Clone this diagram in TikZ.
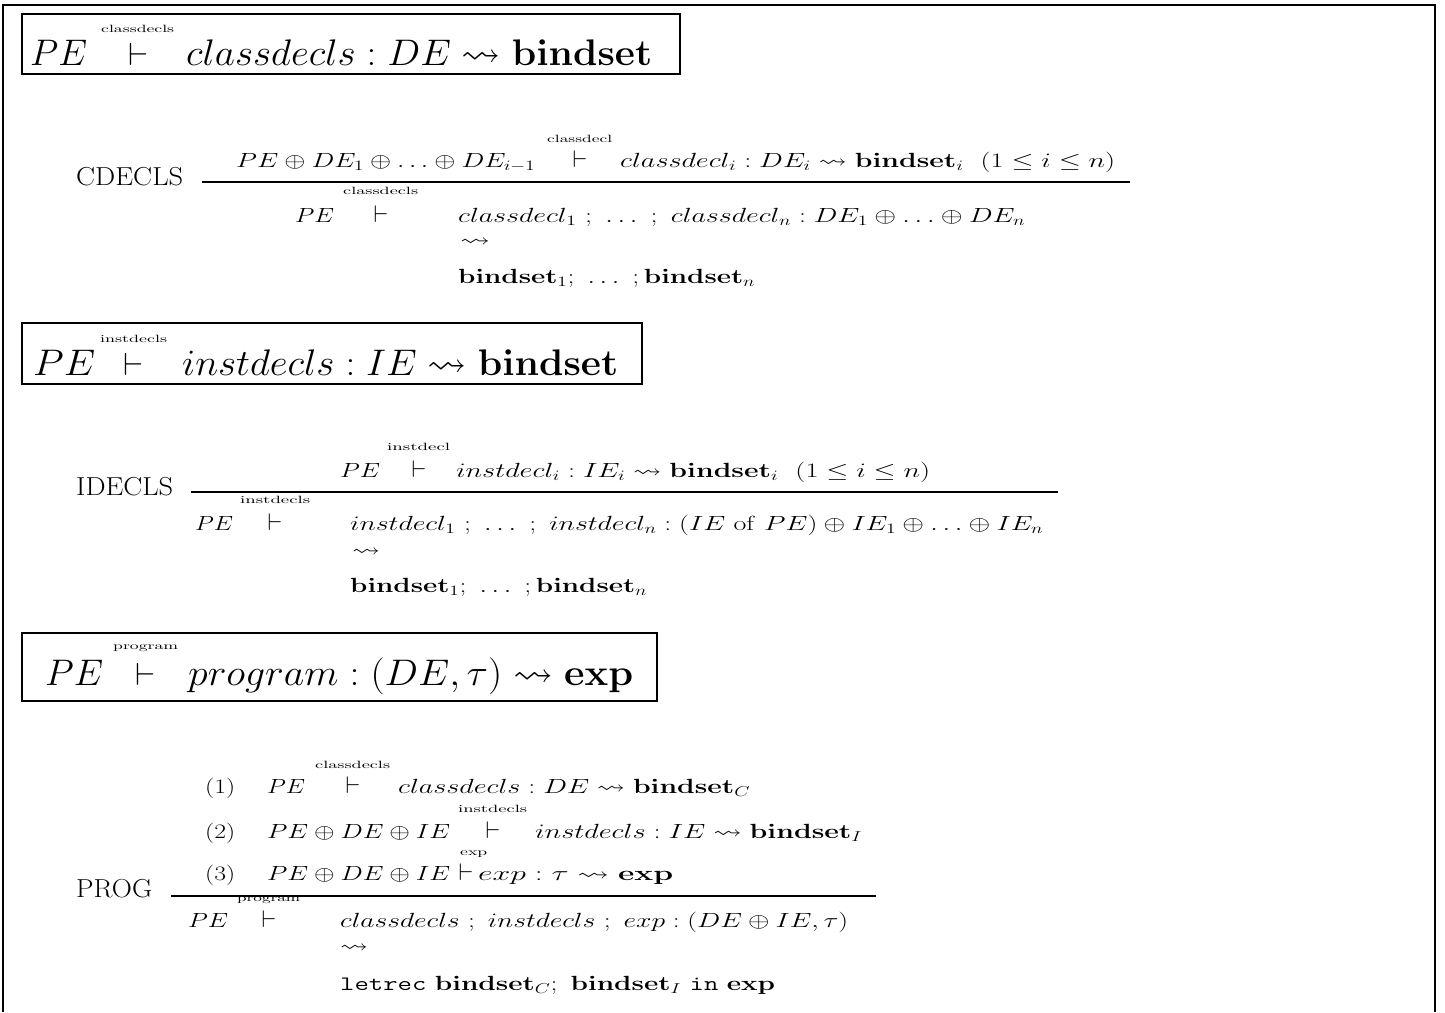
\RequirePackage{fix-cm}
\documentclass[tikz,border=0pt]{standalone}
\usepackage{amssymb}
\usepackage{graphicx}
\newcommand\fw[2]{\resizebox{#1}{\height}{#2}}
\newcommand\Hf{\fontsize{37}{44}\selectfont}
\newcommand\Rf{\fontsize{20.5}{24}\selectfont}
\newcommand\Lf{\fontsize{26}{30}\selectfont}
\newcommand\Sf{\fontsize{10.5}{12}\selectfont}
\newcommand\tsH{\scalebox{3.3}[3.2]{$\vdash$}}
\newcommand\tsR{\scalebox{2.4}[2.4]{$\vdash$}}
\newcommand\sq[1]{\resizebox{#1}{\height}{\Rf$\leadsto$}}
\begin{document}
\begin{tikzpicture}[x=1pt,y=-1pt,
  tx/.style={inner sep=0pt,anchor=base west},
  ts/.style={inner sep=0pt,anchor=base},
  frame/.style={line width=2pt},
  hbox/.style={line width=2pt},
  rule/.style={line width=2.5pt}]
\useasboundingbox (0,0) rectangle (1445,1012);
\draw[frame] (3,1012) -- (3,5) -- (1435,5) -- (1435,1012);
% ---------- header 1
\draw[hbox] (22,14) rectangle (680,74);
\node[tx] (h1pe) at (30,65) {\fw{57pt}{\Hf$PE$}};
\node[tx] (h1lab) at (101,32) {\fw{73pt}{\Sf classdecls}};
\node[ts] (h1ts) at (139,65) {\tsH};
\node[tx] (h1r) at (186,65) {\fw{466pt}{\Hf$classdecls : DE \leadsto \mathbf{bindset}$}};
% ---------- CDECLS
\node[tx] (cl) at (76,185) {\fw{107pt}{\Lf CDECLS}};
\node[tx] (cp1) at (236,167) {\fw{299pt}{\Rf$PE\oplus DE_1\oplus\ldots\oplus DE_{i-1}$}};
\node[tx] (cplab) at (547,142) {\fw{65pt}{\Sf classdecl}};
\node[ts] (cpts) at (580,167) {\tsR};
\node[tx] (cp2) at (620,167) {\fw{495pt}{\Rf$classdecl_i : DE_i \leadsto \mathbf{bindset}_i\ \ (1\le i\le n)$}};
\draw[rule] (202,182) -- (1130,182);
\node[tx] (cc1) at (295,222) {\fw{39pt}{\Rf$PE$}};
\node[tx] (cclab) at (343,194) {\fw{75pt}{\Sf classdecls}};
\node[ts] (ccts) at (381,222) {\tsR};
\node[tx] (cc2) at (458,222) {\fw{567pt}{\Rf$classdecl_1\ ;\ \ldots\ ;\ classdecl_n : DE_1\oplus\ldots\oplus DE_n$}};
\node[tx] (ccsq) at (460,246) {\sq{30pt}};
\node[tx] (cc3) at (458,283) {\fw{297pt}{\Rf$\mathbf{bindset}_1;\ \ldots\ ;\mathbf{bindset}_n$}};
% ---------- header 2
\draw[hbox] (22,323) rectangle (642,384);
\node[tx] (h2pe) at (33,375) {\fw{62pt}{\Hf$PE$}};
\node[tx] (h2lab) at (100,342) {\fw{67pt}{\Sf instdecls}};
\node[ts] (h2ts) at (134,375) {\tsH};
\node[tx] (h2r) at (182,375) {\fw{436pt}{\Hf$instdecls : IE \leadsto \mathbf{bindset}$}};
% ---------- IDECLS
\node[tx] (il) at (76,495) {\fw{97pt}{\Lf IDECLS}};
\node[tx] (ip1) at (340,477) {\fw{40pt}{\Rf$PE$}};
\node[tx] (iplab) at (387,450) {\fw{63pt}{\Sf instdecl}};
\node[ts] (ipts) at (419,477) {\tsR};
\node[tx] (ip2) at (456,477) {\fw{474pt}{\Rf$instdecl_i : IE_i \leadsto \mathbf{bindset}_i\ \ (1\le i\le n)$}};
\draw[rule] (191,492) -- (1058,492);
\node[tx] (ic1) at (195,530) {\fw{38pt}{\Rf$PE$}};
\node[tx] (iclab) at (240,503) {\fw{70pt}{\Sf instdecls}};
\node[ts] (icts) at (275,530) {\tsR};
\node[tx] (ic2) at (350,530) {\fw{693pt}{\Rf$instdecl_1\ ;\ \ldots\ ;\ instdecl_n : (IE\ \mathrm{of}\ PE)\oplus IE_1\oplus\ldots\oplus IE_n$}};
\node[tx] (icsq) at (352,556) {\sq{28pt}};
\node[tx] (ic3) at (350,592) {\fw{297pt}{\Rf$\mathbf{bindset}_1;\ \ldots\ ;\mathbf{bindset}_n$}};
% ---------- header 3
\draw[hbox] (22,633) rectangle (657,701);
\node[tx] (h3pe) at (45,685) {\fw{58pt}{\Hf$PE$}};
\node[tx] (h3lab) at (113,649) {\fw{65pt}{\Sf program}};
\node[ts] (h3ts) at (146,685) {\tsH};
\node[tx] (h3r) at (188,685) {\fw{445pt}{\Hf$program : (DE,\tau) \leadsto \mathbf{exp}$}};
% ---------- PROG
\node[tx] (pl) at (76,897) {\fw{76pt}{\Lf PROG}};
\node[tx] (pn1) at (205,793) {\fw{30pt}{\Rf (1)}};
\node[tx] (pa1) at (267,793) {\fw{38pt}{\Rf$PE$}};
\node[tx] (pl1) at (315,768) {\fw{75pt}{\Sf classdecls}};
\node[ts] (pt1) at (353,793) {\tsR};
\node[tx] (pb1) at (398,793) {\fw{352pt}{\Rf$classdecls : DE \leadsto \mathbf{bindset}_C$}};
\node[tx] (pn2) at (205,838) {\fw{30pt}{\Rf (2)}};
\node[tx] (pa2) at (267,838) {\fw{183pt}{\Rf$PE\oplus DE\oplus IE$}};
\node[tx] (pl2) at (458,812) {\fw{69pt}{\Sf instdecls}};
\node[ts] (pt2) at (493,838) {\tsR};
\node[tx] (pb2) at (535,838) {\fw{327pt}{\Rf$instdecls : IE \leadsto \mathbf{bindset}_I$}};
\node[tx] (pn3) at (205,880) {\fw{30pt}{\Rf (3)}};
\node[tx] (pa3) at (267,880) {\fw{183pt}{\Rf$PE\oplus DE\oplus IE$}};
\node[tx] (pl3) at (460,855) {\fw{27pt}{\Sf exp}};
\node[ts] (pt3) at (466,880) {\tsR};
\node[tx] (pb3) at (478,880) {\fw{195pt}{\Rf$exp : \tau \leadsto \mathbf{exp}$}};
\draw[rule] (171,896) -- (876,896);
\node[tx] (pc1) at (188,927) {\fw{40pt}{\Rf$PE$}};
\node[tx] (pclab) at (237,901) {\fw{63pt}{\Sf program}};
\node[ts] (pcts) at (269,927) {\tsR};
\node[tx] (pc2) at (340,927) {\fw{508pt}{\Rf$classdecls\ ;\ instdecls\ ;\ exp : (DE\oplus IE,\tau)$}};
\node[tx] (pcsq) at (340,952) {\sq{28pt}};
\node[tx] (pc3) at (340,990) {\fw{435pt}{\Rf\texttt{letrec} $\mathbf{bindset}_C;\ \mathbf{bindset}_I$ \texttt{in} $\mathbf{exp}$}};
\end{tikzpicture}
\end{document}
